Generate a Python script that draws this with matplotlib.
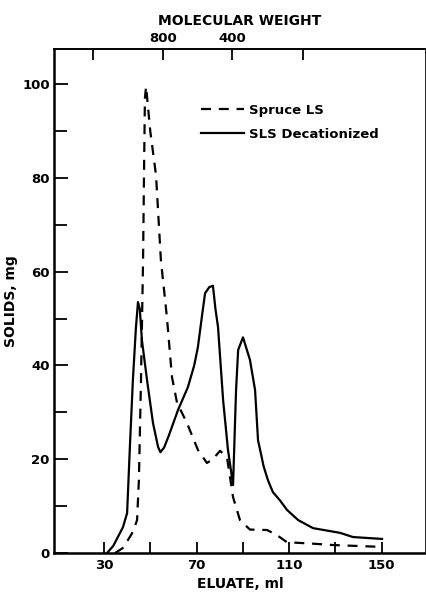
import matplotlib
matplotlib.use("Agg")
import matplotlib.pyplot as plt
from matplotlib.lines import Line2D

# ---- data ----
spruce_x = [34.8, 38.0, 40.4, 42.5, 44.3, 45.1, 46.0, 46.9, 47.3, 47.7, 48.2, 50.0,
            52.5, 54.6, 57.2, 59.4, 61.6, 65.9, 70.6, 74.5, 77.0, 80.2, 83.2, 85.8,
            88.8, 93.1, 100.5, 104.8, 109.1, 120.0, 129.0, 150.0]
spruce_y = [0.0, 1.0, 2.8, 4.5, 7.0, 15.6, 36.9, 62.5, 80.6, 97.0, 99.5, 90.0,
            80.6, 62.5, 50.3, 37.5, 32.0, 27.7, 22.0, 19.2, 20.0, 21.8, 20.3, 11.9,
            7.0, 5.0, 4.9, 3.8, 2.3, 2.0, 1.7, 1.3]

sls_x = [31.3, 34.0, 36.0, 38.2, 40.0, 41.2, 42.5, 43.8, 44.7, 45.5, 46.4, 48.8,
         51.2, 53.4, 54.4, 56.0, 58.0, 62.0, 66.3, 69.0, 70.6, 72.4, 73.7, 75.5,
         77.1, 78.2, 79.3, 81.5, 83.6, 85.8, 87.1, 88.0, 90.1, 93.1, 95.3, 96.6,
         97.5, 99.0, 100.9, 103.0, 106.1, 109.1, 114.0, 120.4, 132.0, 137.7, 150.2]
sls_y = [0.0, 1.5, 3.4, 5.5, 8.5, 22.6, 36.9, 48.0, 53.5, 52.0, 45.4, 36.2,
         27.7, 22.6, 21.5, 22.5, 25.0, 30.5, 35.4, 40.0, 43.9, 50.7, 55.4, 56.7,
         57.0, 52.0, 48.2, 32.6, 22.0, 14.5, 34.8, 43.3, 46.0, 41.2, 34.8, 24.0,
         22.0, 18.5, 15.5, 13.0, 11.2, 9.2, 7.0, 5.3, 4.3, 3.4, 3.0]

x_ticks = [30, 70, 110, 150]
x_minor = [50, 90, 130]
y_ticks = [0, 20, 40, 60, 80, 100]
y_minor = [10, 30, 50, 70, 90]
top_ticks = [25.2, 55.5, 85.4, 116.0]
top_labels = ["", "800", "400", ""]

series_names = ["Spruce LS", "SLS Decationized"]

# ---- figure ----
plt.rcParams['font.family'] = ['DejaVu Sans']
plt.rcParams['font.weight'] = 'bold'
plt.rcParams['axes.labelweight'] = 'bold'
fig = plt.figure(figsize=(4.27, 5.92), dpi=100)
ax = fig.add_axes([54 / 427, (592 - 553) / 592, 372 / 427, 504 / 592])

lw = 1.6
ax.plot(spruce_x, spruce_y, color='black', lw=lw, linestyle=(0, (4.5, 3.5)))
ax.plot(sls_x, sls_y, color='black', lw=lw, linestyle='-')

ax.set_xlim(8.4, 169.2)
ax.set_ylim(0, 107.5)

ax.set_xticks(x_ticks)
ax.set_xticks(x_minor, minor=True)
ax.set_yticks(y_ticks)
ax.set_yticks(y_minor, minor=True)

for sp in ['left', 'bottom']:
    ax.spines[sp].set_linewidth(1.8)
for sp in ['top', 'right']:
    ax.spines[sp].set_linewidth(1.2)

ax.tick_params(axis='x', which='both', direction='in', length=8, width=1.3,
               labelsize=9.5, pad=4)
ax.tick_params(axis='y', which='both', direction='in', length=9, width=1.3,
               labelsize=9.5, pad=3)
ax.tick_params(axis='y', which='major', length=10)

ax.set_xlabel("ELUATE, ml", fontsize=10, labelpad=4)
ax.set_ylabel("SOLIDS, mg", fontsize=10, labelpad=3)

top = ax.secondary_xaxis('top')
top.set_xticks(top_ticks)
top.set_xticklabels(top_labels)
top.tick_params(direction='in', length=8, width=1.3, labelsize=9.5, pad=3)
top.spines['top'].set_linewidth(1.2)
top.set_xlabel("MOLECULAR WEIGHT", fontsize=10, labelpad=5)

handles = [Line2D([], [], color='black', lw=lw, linestyle=(0, (4.5, 3.5))),
           Line2D([], [], color='black', lw=lw, linestyle='-')]
ax.legend(handles, series_names, loc='upper left',
          bbox_to_anchor=(190 / 427, 1 - 93 / 592), bbox_transform=fig.transFigure,
          frameon=False, fontsize=9.5, handlelength=3.3, handletextpad=0.4,
          labelspacing=0.85, borderpad=0.3)

fig.savefig("out.png", dpi=100)
